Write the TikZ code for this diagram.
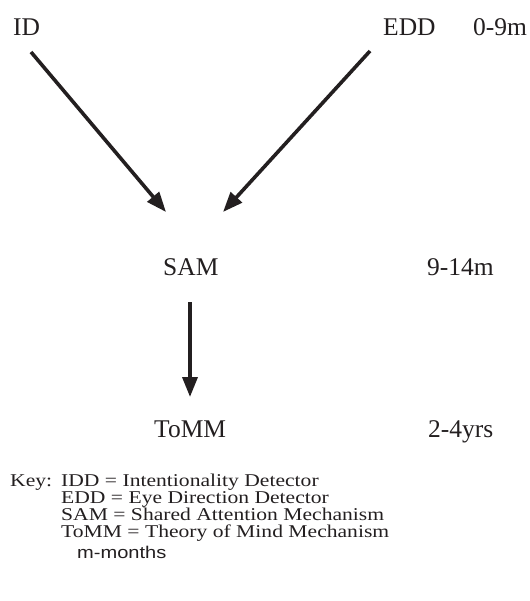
\documentclass[tikz,border=0pt]{standalone}
\usepackage{fontspec}
\setmainfont{Liberation Serif}
\newfontfamily\keyserif[FakeStretch=1.2]{Liberation Serif}
\newfontfamily\keysans[FakeStretch=1.18]{Liberation Sans}
\usetikzlibrary{arrows.meta}
\definecolor{Ink}{HTML}{231F20}

\begin{document}
\begin{tikzpicture}[x=1pt,y=-1pt,>={Triangle[length=20pt,width=15pt]},
  stage/.style={inner sep=0pt,anchor=base west,text=Ink,font=\fontsize{25.5}{28}\selectfont},
  keyline/.style={inner sep=0pt,anchor=base west,text=Ink,font=\keyserif\fontsize{18}{17}\selectfont},
  link/.style={Ink,line width=3.6pt,->}]
  \useasboundingbox (0,0) rectangle (529,601);
  % stages and ages
  \node[stage] (ID) at (13,36) {ID};
  \node[stage] (EDD) at (383,36) {EDD};
  \node[stage] (age0) at (473,36) {0-9m};
  \node[stage] (SAM) at (163,275) {SAM};
  \node[stage] (age1) at (427,275) {9-14m};
  \node[stage] (ToMM) at (154,437) {ToMM};
  \node[stage] (age2) at (428,437) {2-4yrs};
  % arrow ends
  \coordinate (idtail) at (31,52);
  \coordinate (eddtail) at (370,51);
  \coordinate (samtipl) at (166,212);
  \coordinate (samtipr) at (223,212);
  \coordinate (samtail) at (190,302);
  \coordinate (tommtip) at (190,397);
  \draw[link] (idtail) -- (samtipl);
  \draw[link] (eddtail) -- (samtipr);
  \draw[link] (samtail) -- (tommtip);
  % key
  \node[keyline] (keyhead) at (10,486) {Key:};
  \node[keyline] (keyidd) at (61,486) {IDD = Intentionality Detector};
  \node[keyline] (keyedd) at (61,503) {EDD = Eye Direction Detector};
  \node[keyline] (keysam) at (61,520) {SAM = Shared Attention Mechanism};
  \node[keyline] (keytomm) at (61,537) {ToMM = Theory of Mind Mechanism};
  \node[keyline,font=\keysans\fontsize{17}{17}\selectfont] (months) at (77,558) {m-months};
\end{tikzpicture}
\end{document}
